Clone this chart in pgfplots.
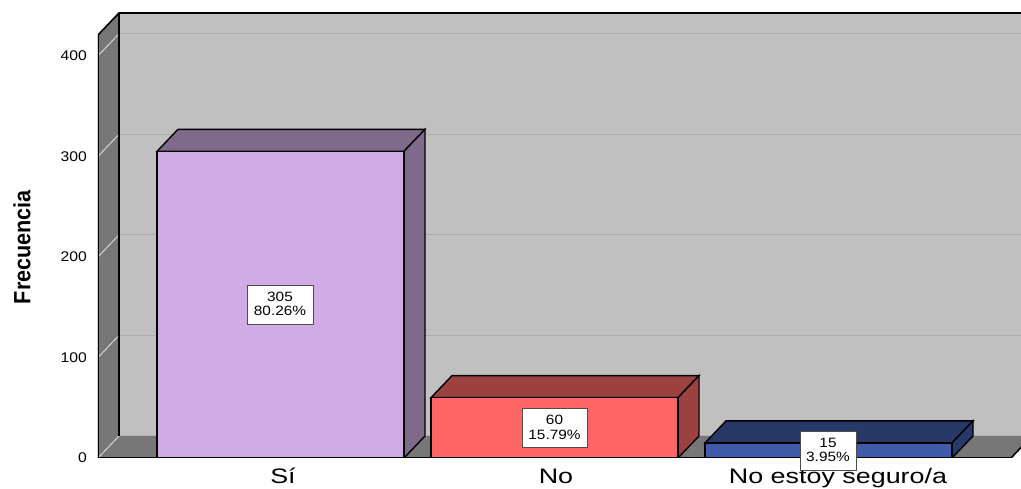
\documentclass[border=0pt]{standalone}
\usepackage{pgfplots}
\usepackage{fontspec}
\pgfplotsset{compat=1.18}
\setmainfont{Liberation Sans}
\newfontfamily\tickfam[FakeStretch=1.12]{Liberation Sans}
\newfontfamily\labfam[FakeStretch=1.14]{Liberation Sans}
\newfontfamily\catfam[FakeStretch=1.28]{Liberation Sans}
\newfontfamily\yfam[FakeStretch=0.92]{Liberation Sans}
\definecolor{wall}{HTML}{C0C0C0}
\definecolor{side}{HTML}{777777}
\definecolor{gridc}{HTML}{ABABAB}
\definecolor{diagc}{HTML}{D4D4D4}
\definecolor{pf}{HTML}{D0ABE6}
\definecolor{pd}{HTML}{806A8C}
\definecolor{rf}{HTML}{FF6666}
\definecolor{rd}{HTML}{9C4040}
\definecolor{bf}{HTML}{3F5BA9}
\definecolor{bd}{HTML}{273969}
\tikzset{dlabel/.style={draw=black!70,line width=0.7pt,fill=white,inner sep=0pt,
  minimum height=39pt,font=\labfam\fontsize{13.5}{14}\selectfont}}
\newcommand{\twolines}[2]{\raisebox{1pt}{\shortstack[c]{#1\\[1.6pt]#2}}}
\begin{document}
\begin{tikzpicture}
\useasboundingbox (0,0) rectangle (1021pt,489pt);
\begin{axis}[
  at={(98pt,31pt)}, anchor=south west,
  scale only axis, width=923pt, height=445pt,
  xmin=98, xmax=1021, ymin=0, ymax=442.6,
  axis line style={draw=none},
  clip mode=individual,
  tick style={draw=none},
  major tick length=0pt,
  xtick={283,556,838},
  xticklabels={Sí,No,No estoy seguro/a},
  ytick={0,100,200,300,400},
  /pgf/number format/assume math mode=true,
  xticklabel style={font=\catfam\fontsize{21}{21}\selectfont,anchor=base,yshift=-26pt,inner sep=0pt},
  yticklabel style={font=\tickfam\fontsize{14}{14}\selectfont,anchor=east,xshift=-11pt,inner sep=0pt},
  ylabel={Frecuencia},
  ylabel style={at={(axis description cs:-0.0824,0.474)},anchor=center,font=\yfam\bfseries\fontsize{23.5}{23.5}\selectfont,inner sep=0pt},
]
% back wall, grid
\addplot[fill=wall,draw=none,forget plot] coordinates {(119,21.9)(1040,21.9)(1040,442.6)(119,442.6)} -- cycle;
\addplot[gridc,line width=1pt] coordinates {(119,121.9)(1040,121.9)};
\addplot[gridc,line width=1pt] coordinates {(119,221.9)(1040,221.9)};
\addplot[gridc,line width=1pt] coordinates {(119,321.9)(1040,321.9)};
\addplot[gridc,line width=1pt] coordinates {(119,421.9)(1040,421.9)};
% floor and left wall
\addplot[fill=side,draw=none] coordinates {(98,0)(1011,0)(1032,21.9)(119,21.9)} -- cycle;
\addplot[fill=side,draw=none] coordinates {(98,0)(119,21.9)(119,442.6)(98,420.7)} -- cycle;
% wall diagonals
\addplot[diagc,line width=1pt] coordinates {(98,0)(119,21.9)};
\addplot[diagc,line width=1pt] coordinates {(98,100)(119,121.9)};
\addplot[diagc,line width=1pt] coordinates {(98,200)(119,221.9)};
\addplot[diagc,line width=1pt] coordinates {(98,300)(119,321.9)};
\addplot[diagc,line width=1pt] coordinates {(98,400)(119,421.9)};
% frame
\addplot[black,line width=1.6pt] coordinates {(98,0)(98,420.7)(119,442.6)(119,21.9)};
\addplot[black,line width=1.6pt] coordinates {(119,442.6)(1040,442.6)};
\addplot[black,line width=1.6pt] coordinates {(98,0)(1011,0)(1032,21.9)};
% bar 1
\addplot[fill=pd,draw=black,line width=1.4pt] coordinates {(157,305)(178,326.9)(425,326.9)(404,305)} -- cycle;
\addplot[fill=pd,draw=black,line width=1.4pt] coordinates {(404,0)(425,21.9)(425,326.9)(404,305)} -- cycle;
\addplot[ybar,bar width=247pt,bar shift=0pt,fill=pf,draw=black,line width=1.4pt] coordinates {(280.5,305)};
% bar 2
\addplot[fill=rd,draw=black,line width=1.4pt] coordinates {(431,60)(452,81.9)(699,81.9)(678,60)} -- cycle;
\addplot[fill=rd,draw=black,line width=1.4pt] coordinates {(678,0)(699,21.9)(699,81.9)(678,60)} -- cycle;
\addplot[ybar,bar width=247pt,bar shift=0pt,fill=rf,draw=black,line width=1.4pt] coordinates {(554.5,60)};
% bar 3
\addplot[fill=bd,draw=black,line width=1.4pt] coordinates {(705,15)(726,36.9)(973,36.9)(952,15)} -- cycle;
\addplot[fill=bd,draw=black,line width=1.4pt] coordinates {(952,0)(973,21.9)(973,36.9)(952,15)} -- cycle;
\addplot[ybar,bar width=247pt,bar shift=0pt,fill=bf,draw=black,line width=1.4pt] coordinates {(828.5,15)};
% data labels
\node[dlabel,minimum width=66pt] at (axis cs:280,152.5) {\twolines{305}{80.26\%}};
\node[dlabel,minimum width=65pt] at (axis cs:554.5,30) {\twolines{60}{15.79\%}};
\node[dlabel,minimum width=56pt] at (axis cs:828,7.5) {\twolines{15}{3.95\%}};
\end{axis}
\end{tikzpicture}
\end{document}
